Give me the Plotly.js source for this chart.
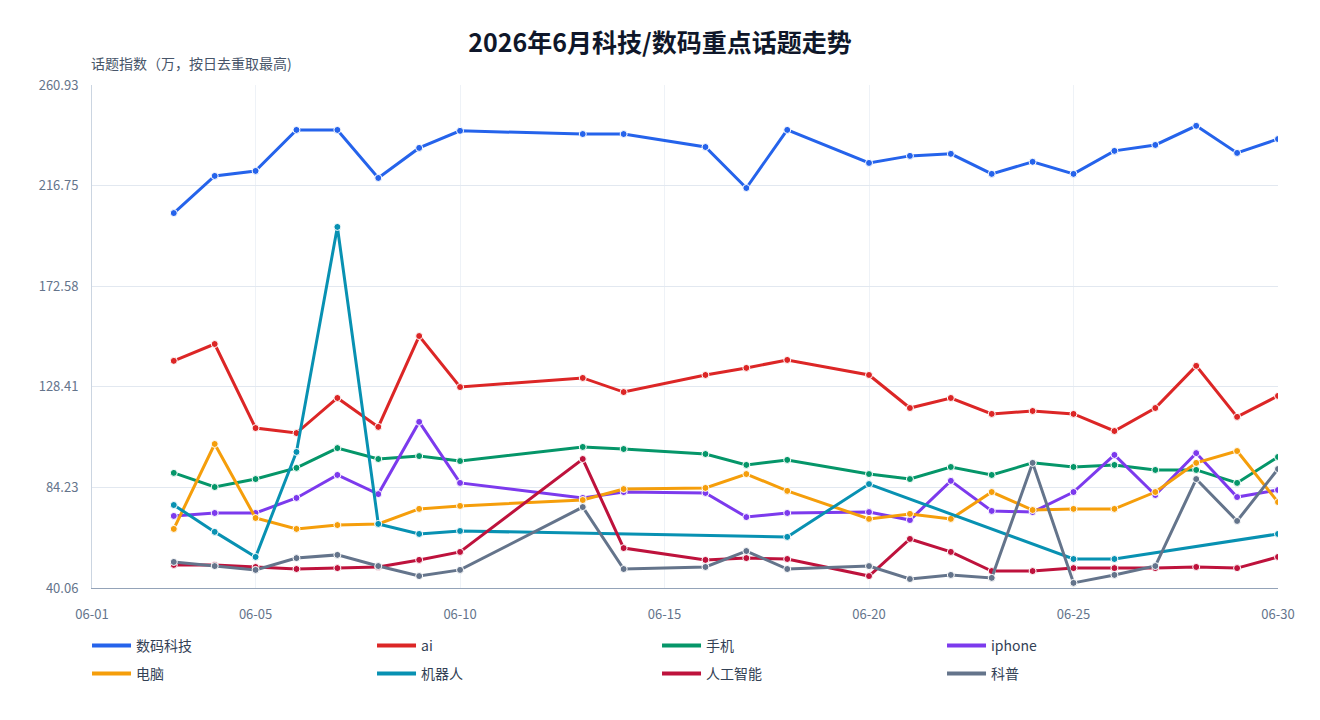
<!DOCTYPE html>
<html>
<head>
<meta charset="utf-8">
<script src="https://cdn.plot.ly/plotly-3.0.1.min.js"></script>
<style>html,body{margin:0;padding:0;background:#fff;}#chart{width:1320px;height:720px;}</style>
</head>
<body>
<div id="chart"></div>
<script>
const dates = ['2026-06-03','2026-06-04','2026-06-05','2026-06-06','2026-06-07','2026-06-08','2026-06-09','2026-06-10','2026-06-13','2026-06-14','2026-06-16','2026-06-17','2026-06-18','2026-06-20','2026-06-21','2026-06-22','2026-06-23','2026-06-24','2026-06-25','2026-06-26','2026-06-27','2026-06-28','2026-06-29','2026-06-30'];
const robotDates = ['2026-06-03','2026-06-04','2026-06-05','2026-06-06','2026-06-07','2026-06-08','2026-06-09','2026-06-10','2026-06-18','2026-06-20','2026-06-25','2026-06-26','2026-06-30'];

const digitalTech = [204.7,221.0,223.2,241.2,241.2,220.1,233.3,240.8,239.4,239.4,233.7,215.7,241.2,226.7,229.8,230.7,221.9,227.2,221.9,232.0,234.6,243.0,231.1,237.2];
const ai = [139.8,147.2,110.3,108.1,123.5,110.8,150.7,128.3,132.3,126.1,133.6,136.7,140.2,133.6,119.1,123.5,116.5,117.8,116.5,109.0,119.1,137.6,115.2,124.4];
const phone = [90.6,84.4,87.9,92.8,101.5,96.7,98.0,95.8,102.0,101.1,98.9,94.1,96.3,90.1,87.9,93.2,89.7,95.0,93.2,94.1,91.9,91.9,86.2,97.6];
const iphone = [71.7,73.0,73.0,79.6,89.7,81.3,113.0,86.2,79.6,82.2,81.8,71.2,73.0,73.4,69.9,87.1,73.9,73.4,82.2,98.5,80.9,99.3,80.0,83.1];
const computer = [66.0,103.3,70.8,66.0,67.7,68.2,74.8,76.1,78.7,83.5,84.0,90.1,82.7,70.4,72.6,70.4,82.2,74.3,74.8,74.8,82.2,95.0,100.2,77.8];
const robot = [76.5,64.7,53.7,99.8,198.6,68.2,63.8,65.1,62.5,85.7,52.8,52.8,63.8];
const artificialIntel = [50.2,50.2,49.3,48.4,48.8,49.3,52.4,55.9,96.7,57.6,52.4,53.2,52.8,45.3,61.6,55.9,47.5,47.5,48.8,48.8,48.8,49.3,48.8,53.7];
const popSci = [51.5,49.7,48.0,53.2,54.6,49.7,45.3,48.0,75.6,48.4,49.3,56.3,48.4,49.7,44.0,45.8,44.5,95.0,42.3,45.8,49.7,87.9,69.5,92.3];

const seriesNames = ['数码科技','ai','手机','iphone','电脑','机器人','人工智能','科普'];
const seriesColors = ['#2563eb','#dc2626','#059669','#7c3aed','#f59e0b','#0891b2','#be123c','#64748b'];
const seriesX = [dates,dates,dates,dates,dates,robotDates,dates,dates];
const seriesY = [digitalTech,ai,phone,iphone,computer,robot,artificialIntel,popSci];

const yTicks = [40.06,84.23,128.41,172.58,216.75,260.93];
const xTicks = ['2026-06-01','2026-06-05','2026-06-10','2026-06-15','2026-06-20','2026-06-25','2026-06-30'];
const xTickText = ['06-01','06-05','06-10','06-15','06-20','06-25','06-30'];

const FONT = '"Noto Sans CJK SC", "Noto Sans", sans-serif';

const dataTraces = seriesNames.map((n,i)=>({
  type:'scatter', mode:'lines+markers', name:n, showlegend:false,
  x: seriesX[i], y: seriesY[i],
  line:{color:seriesColors[i], width:3},
  marker:{color:seriesColors[i], size:7, line:{color:'#ffffff', width:1}}
}));
// legend-only entries (line swatches without markers), split over two legend rows
const legendTraces = seriesNames.map((n,i)=>({
  type:'scatter', mode:'lines', name:n, showlegend:true, hoverinfo:'skip',
  legend: i < 4 ? 'legend' : 'legend2',
  x:[null], y:[null],
  line:{color:seriesColors[i], width:4}
}));

const legendCommon = {orientation:'h', xanchor:'left', yanchor:'top', x:-0.0042,
  entrywidth:231, itemwidth:39, font:{size:14, color:'#334155', family:FONT}, bgcolor:'rgba(0,0,0,0)'};

const layout = {
  width:1320, height:720,
  paper_bgcolor:'#ffffff', plot_bgcolor:'#ffffff',
  font:{family:FONT, color:'#334155', size:13},
  margin:{l:92, r:42, t:85, b:132},
  title:{text:'<b>2026年6月科技/数码重点话题走势</b>', x:0.5, xanchor:'center', y:0.94, yanchor:'middle', font:{size:25, color:'#0f172a', family:FONT}},
  xaxis:{type:'date', range:['2026-06-01','2026-06-30'], tickvals:xTicks, ticktext:xTickText,
    showgrid:true, gridcolor:'#eef2f7', zeroline:false, showline:true, linecolor:'#94a3b8', linewidth:1,
    ticks:'', ticklabelstandoff:14, tickfont:{size:13, color:'#64748b'}},
  yaxis:{range:[40.06,260.93], tickvals:yTicks, ticktext:yTicks.map(v=>v.toFixed(2)),
    showgrid:true, gridcolor:'#e2e8f0', zeroline:false, showline:true, linecolor:'#cbd5e1', linewidth:1,
    ticks:'', ticklabelstandoff:10, tickfont:{size:13, color:'#64748b'}},
  legend:Object.assign({}, legendCommon, {y:-0.0835}),
  legend2:Object.assign({}, legendCommon, {y:-0.139}),
  annotations:[{text:'话题指数（万，按日去重取最高)', xref:'paper', yref:'paper', x:0, xanchor:'left', xshift:-3, y:1.02, yanchor:'bottom', showarrow:false, font:{size:14, color:'#475569'}}],
  showlegend:true
};
Plotly.newPlot('chart', dataTraces.concat(legendTraces), layout, {displayModeBar:false, responsive:false});
</script>
</body>
</html>
